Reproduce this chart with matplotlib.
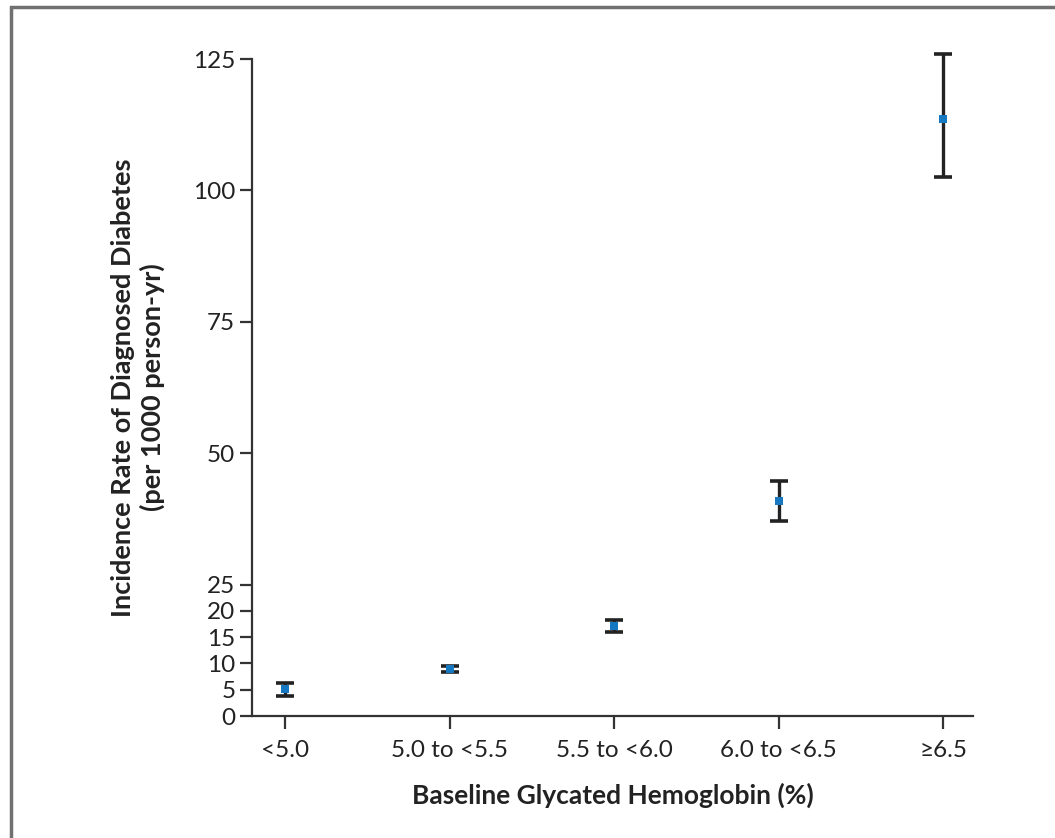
import matplotlib.pyplot as plt
from matplotlib.patches import Rectangle

groups = ['<5.0', '5.0 to <5.5', '5.5 to <6.0', '6.0 to <6.5', '\u22656.5']
rate = [5.1, 8.9, 17.1, 40.9, 113.6]
ci_low = [3.9, 8.3, 16.0, 37.1, 102.6]
ci_high = [6.2, 9.5, 18.3, 44.8, 125.9]
yticks = [0, 5, 10, 15, 20, 25, 50, 75, 100, 125]

plt.rcParams['font.family'] = ['Lato', 'DejaVu Sans']

fig = plt.figure(figsize=(10.55, 8.38), dpi=100)
# grey frame round the figure (only left and top visible)
fig.patches.append(Rectangle((11 / 1055, -0.1), 1.2, 0.1 + (838 - 7) / 838,
                             transform=fig.transFigure, fill=False,
                             edgecolor='#707070', linewidth=2.5))

ax = fig.add_axes([252 / 1055, (838 - 716) / 838, (973 - 252) / 1055, (716 - 59) / 838])
x = list(range(len(groups)))
lower = [r - lo for r, lo in zip(rate, ci_low)]
upper = [hi - r for r, hi in zip(rate, ci_high)]
eb = ax.errorbar(x, rate, yerr=[lower, upper], fmt='none', ecolor='#222222',
                 elinewidth=2.4, capsize=6.5, capthick=2.6, zorder=2)
for art in eb.lines[1] + eb.lines[2]:
    art.set_clip_on(False)
ax.plot(x, rate, 's', color='#1778c2', markersize=5.5, markeredgewidth=0, zorder=3,
        clip_on=False)

ax.set_xlim(-0.2, 4.18)
ax.set_ylim(0, 125)
ax.set_xticks(x)
ax.set_xticklabels(groups)
ax.set_yticks(yticks)
ax.spines['top'].set_visible(False)
ax.spines['right'].set_visible(False)
for s in ('left', 'bottom'):
    ax.spines[s].set_linewidth(1.6)
    ax.spines[s].set_color('#333333')
ax.tick_params(axis='both', direction='out', length=9, width=1.6, color='#333333',
               labelsize=17.5, labelcolor='#222222')
ax.tick_params(axis='x', pad=8)
ax.tick_params(axis='y', pad=3)

ax.set_xlabel('Baseline Glycated Hemoglobin (%)', fontsize=19, fontweight='bold',
              color='#222222', labelpad=16)
ax.set_ylabel('Incidence Rate of Diagnosed Diabetes\n(per 1000 person-yr)', fontsize=19.5,
              fontweight='bold', color='#222222', labelpad=20, linespacing=1.25)

fig.savefig('out.png', dpi=100)
